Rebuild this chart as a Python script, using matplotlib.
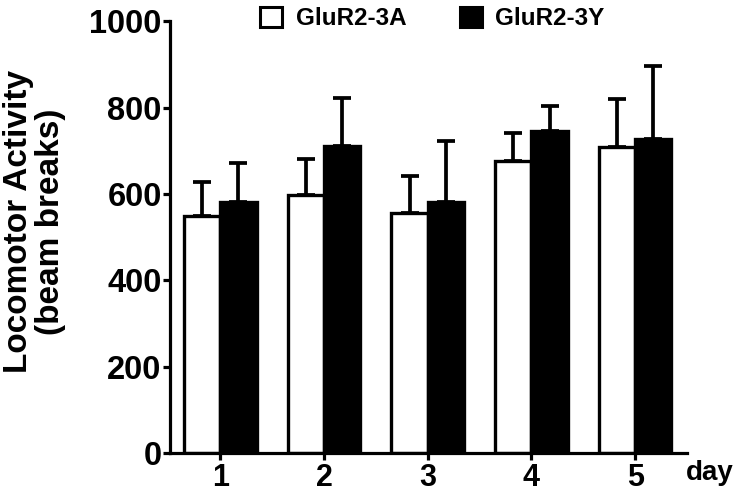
import matplotlib
matplotlib.use("Agg")
import matplotlib.pyplot as plt
from matplotlib.patches import Patch
import numpy as np

days = ["1", "2", "3", "4", "5"]
series_names = ["GluR2-3A", "GluR2-3Y"]
mean_3A = [549, 597, 555, 676, 708]
sem_3A = [79, 85, 87, 64, 113]
mean_3Y = [582, 711, 582, 745, 728]
sem_3Y = [89, 112, 140, 59, 169]
y_ticks = [0, 200, 400, 600, 800, 1000]

plt.rcParams['font.family'] = ['Liberation Sans', 'DejaVu Sans']
plt.rcParams['font.weight'] = 'bold'

fig = plt.figure(figsize=(7.34, 4.93), dpi=100)
ax = fig.add_axes([0.2316, 0.081, 0.936 - 0.2316, 0.957 - 0.081])

x = np.arange(1, len(days) + 1)
w = 0.35
lw = 2.4
ax.bar(x - w / 2, mean_3A, width=w, color='white', edgecolor='black', linewidth=lw, zorder=2)
ax.bar(x + w / 2, mean_3Y, width=w, color='black', edgecolor='black', linewidth=lw, zorder=2)

for xs, m, e in [(x - w / 2, mean_3A, sem_3A), (x + w / 2, mean_3Y, sem_3Y)]:
    ax.errorbar(xs, m, yerr=[np.zeros(len(e)), e], fmt='none', ecolor='black',
                elinewidth=2.7, capsize=6.2, capthick=2.7, zorder=1)

ax.set_xlim(0.515, 5.5)
ax.set_ylim(0, 1000)
ax.set_xticks(x)
ax.set_xticklabels(days)
ax.set_yticks(y_ticks)
ax.set_yticklabels([str(v) for v in y_ticks])

for s in ['top', 'right']:
    ax.spines[s].set_visible(False)
for s in ['left', 'bottom']:
    ax.spines[s].set_linewidth(2.3)

ax.tick_params(axis='both', width=2.3, length=5, direction='out')
ax.tick_params(axis='y', pad=1, labelsize=23.5)
ax.tick_params(axis='x', pad=2, labelsize=22)
for lab in ax.get_xticklabels() + ax.get_yticklabels():
    lab.set_fontweight('bold')

fig.text(0.004, 0.55, "Locomotor Activity\n(beam breaks)", rotation=90,
         ha='left', va='center', fontsize=24, fontweight='bold', linespacing=1.05,
         multialignment='center')

fig.text(0.967, 0.04, "day", ha='center', va='center', fontsize=20, fontweight='bold')

handles = [Patch(facecolor='white', edgecolor='black', linewidth=2.2),
           Patch(facecolor='black', edgecolor='black', linewidth=2.2)]
fig.legend(handles, series_names, loc='center', bbox_to_anchor=(0.589, 0.963), ncol=2,
           frameon=False, handlelength=0.9, handleheight=0.9,
           handletextpad=0.55, columnspacing=2.2, prop={'weight': 'bold', 'size': 17.5})

fig.savefig("out.png", dpi=100)
